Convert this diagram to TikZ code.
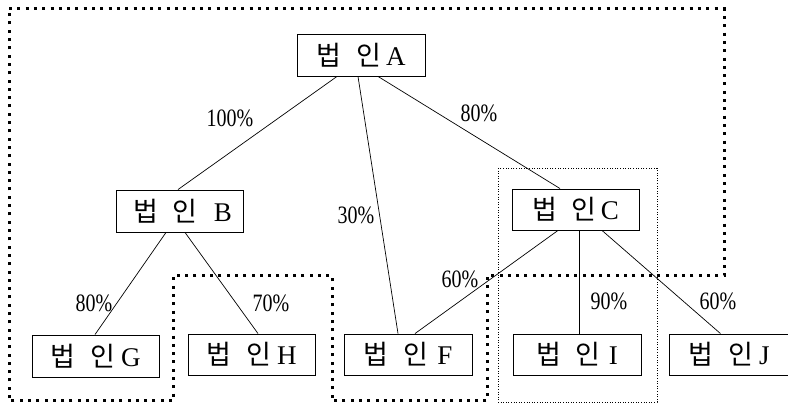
\documentclass[tikz,border=0pt]{standalone}
\usepackage{fontspec}
\setmainfont{Liberation Serif}
\newfontfamily\kr{Noto Sans CJK KR}[Scale=1.0]
\newfontfamily\pctfont{Liberation Serif}[FakeStretch=0.8]
\begin{document}
\begin{tikzpicture}[x=1pt,y=-1pt,
  corp/.style={draw,line width=0.9pt,inner sep=0pt,minimum height=41pt,minimum width=127pt,font=\fontsize{27}{29}\selectfont},
  link/.style={line width=0.7pt},
  pct/.style={inner sep=0pt,font=\pctfont\fontsize{25}{27}\selectfont},
  bigdot/.style={line width=3pt,dash pattern=on 3pt off 5.3pt},
  thindot/.style={line width=0.8pt,dash pattern=on 1pt off 1.6pt}]
\useasboundingbox (0,0) rectangle (788,403);
\draw[bigdot] (9,9) -- (724,9) -- (724,276) -- (487,276) -- (487,401) -- (332,401) -- (332,276) -- (173,276) -- (173,401) -- (9,401) -- cycle;
\draw[thindot] (498,168) rectangle (657,402);
\newcommand{\bubin}[2][6pt]{{\kr 법}\hspace{15pt}{\kr 인}\hspace{#1}#2}
\node[corp,minimum width=128pt,minimum height=42pt] (A) at (361,55) {\bubin[5pt]{A}};
\node[corp,minimum height=42pt] (B) at (179.5,211) {\hspace{6pt}\bubin[16pt]{B}};
\node[corp] (C) at (575.5,209.5) {\bubin[4pt]{C}};
\node[corp,minimum height=42pt] (G) at (95.5,356) {\bubin{G}};
\node[corp] (H) at (251.5,354.5) {\bubin{H}};
\node[corp,minimum width=128pt] (F) at (408,354.5) {\bubin[9pt]{F}};
\node[corp,minimum width=128pt] (I) at (577,354.5) {\bubin[8pt]{I}};
\node[corp,minimum width=125pt,anchor=west] (J) at (669,354.5) {\hspace{-6pt}\bubin{J}};
\draw[link] ([xshift=-24pt]A.south) -- ([xshift=-1.5pt]B.north);
\draw[link] ([xshift=-3pt]A.south) -- ([xshift=-10pt]F.north);
\draw[link] ([xshift=17pt]A.south) -- ([xshift=-15.5pt]C.north);
\draw[link] ([xshift=-13.5pt]B.south) -- ([xshift=-0.5pt]G.north);
\draw[link] ([xshift=5.5pt]B.south) -- ([xshift=6.5pt]H.north);
\draw[link] ([xshift=-17.5pt]C.south) -- ([xshift=7pt]F.north);
\draw[link] ([xshift=3.5pt]C.south) -- ([xshift=2pt]I.north);
\draw[link] ([xshift=26.5pt]C.south) -- ([xshift=-11.5pt]J.north);
\node[pct] (p1) at (230,118) {100\%};
\node[pct] (p2) at (479,113) {80\%};
\node[pct] (p3) at (356,215) {30\%};
\node[pct] (p4) at (94,303) {80\%};
\node[pct] (p5) at (271,303) {70\%};
\node[pct] (p6) at (460,279) {60\%};
\node[pct] (p7) at (609,301) {90\%};
\node[pct] (p8) at (718,301) {60\%};
\end{tikzpicture}
\end{document}
